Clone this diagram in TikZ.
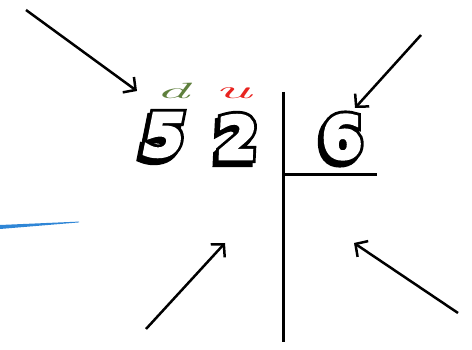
\documentclass[tikz,border=0pt]{standalone}
\usepackage{fontspec}
\newfontfamily\digitfill{DejaVu Sans}[FakeBold=6]
\newfontfamily\digitline{DejaVu Sans}[FakeBold=16]
\usetikzlibrary{arrows.meta,calc}
\definecolor{dgreen}{HTML}{5E7F3C}
\definecolor{ured}{HTML}{E8231F}
\definecolor{blueline}{HTML}{2F86D6}
\tikzset{
  digitw/.style={inner sep=0pt, text=white, font=\digitfill\bfseries\fontsize{58}{58}\selectfont},
  digitb/.style={inner sep=0pt, text=black, font=\digitline\bfseries\fontsize{58}{58}\selectfont},
  pointer/.style={line width=2.5pt, -{Straight Barb[length=9pt,width=19pt,line width=2.5pt]}},
  bracket/.style={line width=3pt},
  letter/.style={inner sep=0pt, font=\itshape\fontsize{26}{26}\selectfont}
}
% #1 name, #2 position, #3 digit, #4 slant
\newcommand\bubble[4]{%
  \node[digitb, xslant=#4, transform shape] at ($(#2)+(-3,4)$) {#3};
  \node[digitb, xslant=#4, transform shape] at (#2) {#3};
  \node[digitw, xslant=#4, transform shape] (#1) at (#2) {#3};
}
\begin{document}
\begin{tikzpicture}[x=1pt,y=-1pt]
\useasboundingbox (0,0) rectangle (472,350);
% bracket
\coordinate (vtop) at (283,92);
\coordinate (vbot) at (283,342);
\coordinate (hl) at (283,175);
\coordinate (hr) at (377,175);
\draw[bracket] (vtop) -- (vbot);
\draw[bracket] (hl) -- (hr);
% digits
\coordinate (p5) at (164,135);
\coordinate (p2) at (237,137);
\coordinate (p6) at (342,137);
\bubble{n5}{p5}{5}{0.2}
\bubble{n2}{p2}{2}{0.05}
\bubble{n6}{p6}{6}{0}
% labels
\node[letter,text=dgreen] (ld) at (172,91) {\scalebox{2.6}[0.85]{d}};
\node[letter,text=ured] (lu) at (233,93) {\scalebox{2.7}[0.95]{u}};
% blue line
\fill[blueline] (0,225) -- (79,221.6) -- (79,222.4) -- (0,229) -- cycle;
% arrows
\coordinate (a1s) at (26,10);   \coordinate (a1e) at (137,91);
\coordinate (a2s) at (421,35);  \coordinate (a2e) at (355,108);
\coordinate (a3s) at (146,329); \coordinate (a3e) at (225,243);
\coordinate (a4s) at (458,313); \coordinate (a4e) at (354,243);
\draw[pointer] (a1s) -- (a1e);
\draw[pointer] (a2s) -- (a2e);
\draw[pointer] (a3s) -- (a3e);
\draw[pointer] (a4s) -- (a4e);
\end{tikzpicture}
\end{document}
